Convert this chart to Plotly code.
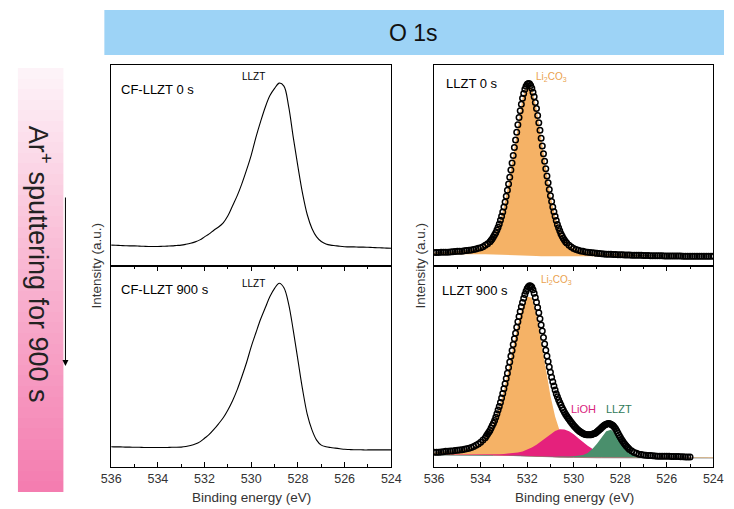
import plotly.graph_objects as go

W, H = 734, 509

# ---------------------------------------------------------------- data
# binding energy grid (eV) used for the CF-LLZT spectra, background and fits
ENERGY = [536.0, 535.8, 535.6, 535.4, 535.2, 535.0, 534.8, 534.6, 534.4, 534.2,
          534.0, 533.8, 533.6, 533.4, 533.2, 533.0, 532.8, 532.6, 532.4, 532.2,
          532.0, 531.8, 531.6, 531.4, 531.2, 531.0, 530.8, 530.6, 530.4, 530.2,
          530.0, 529.8, 529.6, 529.4, 529.2, 529.0, 528.8, 528.6, 528.4, 528.2,
          528.0, 527.8, 527.6, 527.4, 527.2, 527.0, 526.8, 526.6, 526.4, 526.2,
          526.0, 525.8, 525.6, 525.4, 525.2, 525.0, 524.8, 524.6, 524.4, 524.2,
          524.0]

# CF-LLZT spectra (normalised intensity)
CF_LLZT_0S = [0.104, 0.103, 0.102, 0.101, 0.100, 0.100, 0.099, 0.098, 0.097, 0.097,
              0.097, 0.098, 0.099, 0.100, 0.102, 0.104, 0.108, 0.113, 0.120, 0.130,
              0.145, 0.160, 0.178, 0.194, 0.215, 0.250, 0.300, 0.350, 0.410, 0.478,
              0.552, 0.640, 0.718, 0.790, 0.848, 0.884, 0.910, 0.895, 0.795, 0.640,
              0.494, 0.360, 0.255, 0.187, 0.145, 0.122, 0.110, 0.104, 0.101, 0.098,
              0.096, 0.095, 0.095, 0.094, 0.094, 0.093, 0.092, 0.091, 0.090, 0.089,
              0.088]
CF_LLZT_900S = [0.101, 0.100, 0.100, 0.099, 0.099, 0.098, 0.098, 0.097, 0.097, 0.097,
                0.097, 0.097, 0.097, 0.098, 0.098, 0.099, 0.102, 0.107, 0.114, 0.125,
                0.143, 0.162, 0.187, 0.215, 0.245, 0.284, 0.330, 0.385, 0.450, 0.520,
                0.599, 0.668, 0.735, 0.792, 0.848, 0.889, 0.914, 0.892, 0.812, 0.680,
                0.532, 0.385, 0.262, 0.185, 0.134, 0.109, 0.101, 0.097, 0.094, 0.091,
                0.088, 0.087, 0.086, 0.086, 0.085, 0.085, 0.085, 0.085, 0.085, 0.085,
                0.085]

# ---- LLZT 0 s: measured points (finer steps across the main peak)
ENERGY_0S = (
    [536.0, 535.9, 535.8, 535.7, 535.6, 535.5, 535.4, 535.3, 535.2, 535.1,
     535.0, 534.9, 534.8, 534.7, 534.6, 534.5, 534.4, 534.3, 534.2, 534.1,
     534.0, 533.9, 533.8, 533.7]
    + [533.6, 533.55, 533.5, 533.45, 533.4, 533.35, 533.3, 533.25, 533.2, 533.15,
       533.1, 533.05, 533.0, 532.95, 532.9, 532.85, 532.8, 532.75, 532.7, 532.65,
       532.6, 532.55, 532.5, 532.45, 532.4, 532.35, 532.3, 532.25, 532.2, 532.15,
       532.1, 532.05, 532.0, 531.95, 531.9, 531.85, 531.8, 531.75, 531.7, 531.65,
       531.6, 531.55, 531.5, 531.45, 531.4, 531.35, 531.3, 531.25, 531.2, 531.15,
       531.1, 531.05, 531.0, 530.95, 530.9, 530.85, 530.8, 530.75, 530.7, 530.65,
       530.6, 530.55, 530.5, 530.45, 530.4, 530.35, 530.3]
    + [530.2, 530.1, 530.0, 529.9, 529.8, 529.7, 529.6, 529.5, 529.4, 529.3,
       529.2, 529.1, 529.0, 528.9, 528.8, 528.7, 528.6, 528.5, 528.4, 528.3,
       528.2, 528.1, 528.0, 527.9, 527.8, 527.7, 527.6, 527.5, 527.4, 527.3,
       527.2, 527.1, 527.0, 526.9, 526.8, 526.7, 526.6, 526.5, 526.4, 526.3,
       526.2, 526.1, 526.0, 525.9, 525.8, 525.7, 525.6, 525.5, 525.4, 525.3,
       525.2, 525.1, 525.0, 524.9, 524.8, 524.7, 524.6, 524.5, 524.4, 524.3,
       524.2, 524.1, 524.0]
)
LLZT_0S = (
    [0.067, 0.067, 0.067, 0.068, 0.068, 0.069, 0.069, 0.070, 0.071, 0.072,
     0.073, 0.073, 0.074, 0.076, 0.077, 0.078, 0.080, 0.082, 0.085, 0.088,
     0.091, 0.096, 0.103, 0.111]
    + [0.121, 0.128, 0.136, 0.145, 0.155, 0.166, 0.179, 0.193, 0.209, 0.227,
       0.247, 0.269, 0.293, 0.319, 0.347, 0.377, 0.408, 0.442, 0.477, 0.513,
       0.550, 0.589, 0.627, 0.666, 0.703, 0.739, 0.773, 0.805, 0.834, 0.858,
       0.879, 0.894, 0.904, 0.908, 0.907, 0.898, 0.884, 0.865, 0.842, 0.814,
       0.783, 0.749, 0.713, 0.675, 0.636, 0.597, 0.559, 0.521, 0.484, 0.448,
       0.414, 0.381, 0.350, 0.321, 0.294, 0.270, 0.247, 0.226, 0.207, 0.190,
       0.175, 0.161, 0.149, 0.138, 0.129, 0.121, 0.114]
    + [0.103, 0.094, 0.087, 0.082, 0.078, 0.075, 0.073, 0.070, 0.069, 0.067,
       0.066, 0.065, 0.063, 0.062, 0.061, 0.060, 0.059, 0.059, 0.058, 0.057,
       0.057, 0.056, 0.056, 0.056, 0.055, 0.055, 0.055, 0.054, 0.054, 0.054,
       0.054, 0.053, 0.052, 0.052, 0.052, 0.051, 0.051, 0.051, 0.051, 0.051,
       0.051, 0.050, 0.050, 0.050, 0.050, 0.050, 0.050, 0.050, 0.050, 0.049,
       0.049, 0.049, 0.049, 0.049, 0.049, 0.049, 0.049, 0.049, 0.049, 0.049,
       0.049, 0.049, 0.049]
)
# background and Li2CO3 component (on ENERGY)
BG_0S = [0.058] * 14 + [0.057, 0.057, 0.056, 0.055, 0.054, 0.053, 0.052, 0.051,
                        0.050, 0.049, 0.049] + [0.048] * 11 + [0.047] * 9 + [0.046] * 16
LI2CO3_0S = [0.009, 0.009, 0.010, 0.011, 0.013, 0.015, 0.016, 0.019, 0.022, 0.027,
             0.033, 0.045, 0.063, 0.097, 0.152, 0.236, 0.352, 0.495, 0.649, 0.781,
             0.852, 0.833, 0.733, 0.587, 0.435, 0.302, 0.199, 0.127, 0.081, 0.055,
             0.039, 0.030, 0.025, 0.021, 0.018, 0.015, 0.014, 0.012, 0.011, 0.010,
             0.009, 0.008, 0.008, 0.007, 0.007, 0.006, 0.006, 0.005, 0.005, 0.005,
             0.004, 0.004, 0.004, 0.004, 0.003, 0.003, 0.003, 0.003, 0.003, 0.003,
             0.003]

# ---- LLZT 900 s: measured points (536-525 eV, finer steps across the peaks)
ENERGY_900S = (
    [536.0, 535.9, 535.8, 535.7, 535.6, 535.5, 535.4, 535.3, 535.2, 535.1,
     535.0, 534.9, 534.8, 534.7, 534.6, 534.5, 534.4, 534.3, 534.2, 534.1,
     534.0, 533.9]
    + [533.8, 533.75, 533.7, 533.65, 533.6, 533.55, 533.5, 533.45, 533.4, 533.35,
       533.3, 533.25, 533.2, 533.15, 533.1, 533.05, 533.0, 532.95, 532.9, 532.85,
       532.8, 532.75, 532.7, 532.65, 532.6, 532.55, 532.5, 532.45, 532.4, 532.35,
       532.3, 532.25, 532.2, 532.15, 532.1, 532.05, 532.0, 531.95, 531.9, 531.85,
       531.8, 531.75, 531.7, 531.65, 531.6, 531.55, 531.5, 531.45, 531.4, 531.35,
       531.3, 531.25, 531.2, 531.15, 531.1, 531.05, 531.0, 530.95, 530.9, 530.85,
       530.8, 530.75, 530.7, 530.65, 530.6, 530.55, 530.5, 530.45, 530.4, 530.35,
       530.3, 530.25, 530.2, 530.15, 530.1, 530.05, 530.0, 529.95, 529.9, 529.85,
       529.8, 529.75, 529.7, 529.65, 529.6, 529.55, 529.5, 529.45, 529.4, 529.35,
       529.3, 529.25, 529.2, 529.15, 529.1, 529.05, 529.0, 528.95, 528.9, 528.85,
       528.8, 528.75, 528.7, 528.65, 528.6, 528.55, 528.5, 528.45, 528.4, 528.35,
       528.3, 528.25, 528.2, 528.15, 528.1, 528.05, 528.0, 527.95, 527.9, 527.85,
       527.8, 527.75, 527.7, 527.65, 527.6]
    + [527.5, 527.4, 527.3, 527.2, 527.1, 527.0, 526.9, 526.8, 526.7, 526.6,
       526.5, 526.4, 526.3, 526.2, 526.1, 526.0, 525.9, 525.8, 525.7, 525.6,
       525.5, 525.4, 525.3, 525.2, 525.1, 525.0]
)
LLZT_900S = (
    [0.073, 0.074, 0.074, 0.075, 0.076, 0.078, 0.078, 0.080, 0.080, 0.082,
     0.083, 0.084, 0.086, 0.088, 0.091, 0.093, 0.097, 0.102, 0.108, 0.114,
     0.123, 0.134]
    + [0.146, 0.155, 0.164, 0.173, 0.182, 0.194, 0.206, 0.218, 0.231, 0.247,
       0.265, 0.283, 0.301, 0.321, 0.343, 0.366, 0.389, 0.414, 0.440, 0.467,
       0.495, 0.523, 0.551, 0.580, 0.609, 0.638, 0.666, 0.695, 0.723, 0.749,
       0.774, 0.797, 0.819, 0.840, 0.858, 0.874, 0.888, 0.897, 0.902, 0.900,
       0.895, 0.882, 0.864, 0.843, 0.820, 0.794, 0.767, 0.738, 0.707, 0.676,
       0.644, 0.612, 0.581, 0.552, 0.525, 0.498, 0.472, 0.447, 0.424, 0.403,
       0.383, 0.365, 0.349, 0.334, 0.321, 0.308, 0.295, 0.284, 0.273, 0.263,
       0.254, 0.245, 0.237, 0.229, 0.221, 0.214, 0.207, 0.200, 0.194, 0.188,
       0.183, 0.178, 0.174, 0.170, 0.167, 0.164, 0.162, 0.161, 0.160, 0.160,
       0.160, 0.161, 0.163, 0.165, 0.167, 0.171, 0.175, 0.180, 0.185, 0.190,
       0.196, 0.201, 0.206, 0.210, 0.213, 0.215, 0.216, 0.215, 0.213, 0.209,
       0.205, 0.198, 0.190, 0.180, 0.169, 0.158, 0.148, 0.138, 0.129, 0.121,
       0.113, 0.106, 0.099, 0.093, 0.087]
    + [0.079, 0.072, 0.068, 0.064, 0.062, 0.060, 0.059, 0.057, 0.057, 0.056,
       0.055, 0.054, 0.054, 0.053, 0.053, 0.053, 0.053, 0.052, 0.052, 0.052,
       0.052, 0.051, 0.051, 0.050, 0.050, 0.050]
)
# background and fitted components (on ENERGY)
BG_900S = [0.060] * 13 + [0.059, 0.059, 0.058, 0.058, 0.057, 0.056, 0.055, 0.054,
                          0.053, 0.052, 0.051, 0.050, 0.050, 0.049, 0.049, 0.048,
                          0.048, 0.048] + [0.047] * 4 + [0.046] * 5 + [0.045] * 21
LI2CO3_900S = [0.012, 0.013, 0.015, 0.016, 0.018, 0.021, 0.024, 0.029, 0.035, 0.045,
               0.060, 0.083, 0.118, 0.168, 0.237, 0.323, 0.427, 0.540, 0.650, 0.741,
               0.794, 0.789, 0.708, 0.578, 0.434, 0.305, 0.202, 0.130, 0.083, 0.055,
               0.039, 0.030, 0.024, 0.020, 0.017, 0.015, 0.014, 0.012, 0.010, 0.010,
               0.009, 0.008, 0.007, 0.006, 0.006, 0.006, 0.005, 0.005, 0.004, 0.004,
               0.004, 0.003, 0.003, 0.003, 0.003, 0.003, 0.003, 0.003, 0.002, 0.002,
               0.002]
LIOH_900S = [0.001, 0.001, 0.001, 0.002, 0.002, 0.002, 0.002, 0.002, 0.002, 0.003,
             0.003, 0.003, 0.004, 0.004, 0.005, 0.007, 0.009, 0.011, 0.016, 0.022,
             0.032, 0.044, 0.059, 0.077, 0.096, 0.115, 0.130, 0.139, 0.139, 0.130,
             0.115, 0.096, 0.077, 0.059, 0.044, 0.032, 0.022, 0.016, 0.011, 0.009,
             0.007, 0.005, 0.004, 0.004, 0.003, 0.003, 0.003, 0.003, 0.002, 0.002,
             0.002, 0.002, 0.002, 0.002, 0.001, 0.001, 0.001, 0.001, 0.001, 0.001,
             0.001]
LLZT_COMP_900S = [0.000, 0.000, 0.000, 0.000, 0.000, 0.000, 0.000, 0.000, 0.000, 0.000,
                  0.000, 0.000, 0.000, 0.000, 0.000, 0.001, 0.001, 0.001, 0.001, 0.001,
                  0.001, 0.001, 0.001, 0.001, 0.001, 0.002, 0.002, 0.003, 0.003, 0.004,
                  0.005, 0.008, 0.013, 0.023, 0.042, 0.070, 0.104, 0.132, 0.139, 0.120,
                  0.087, 0.055, 0.031, 0.017, 0.010, 0.006, 0.004, 0.003, 0.003, 0.002,
                  0.002, 0.002, 0.002, 0.001, 0.001, 0.001, 0.001, 0.001, 0.001, 0.001,
                  0.001]

X_TICKS = [536, 534, 532, 530, 528, 526, 524]
X_MINOR = [535, 533, 531, 529, 527, 525]
GRADIENT_STEPS = list(range(40))

# ---------------------------------------------------------------- styling
FONT = "Liberation Sans, Arial, sans-serif"
ORANGE = "#F5B266"
MAGENTA = "#E5217C"
GREEN = "#4A8F6C"
PINK_TOP = "#FDF3F8"
PINK_BOTTOM = "#F47DB0"
BANNER = "#9DD3F6"


def px_x(p):
    return p / W


def px_y(p):
    return (H - p) / H


fig = go.Figure()


def component(xa, ya, bg, comp, color):
    """Filled peak between the background and background + component."""
    top = [b + c for b, c in zip(bg, comp)]
    xs = ENERGY + ENERGY[::-1]
    ys = top + bg[::-1]
    fig.add_trace(go.Scatter(x=xs, y=ys, xaxis=xa, yaxis=ya, mode="lines",
                             fill="toself", fillcolor=color,
                             line=dict(width=0, color=color), hoverinfo="skip"))


POINT_MARKER = dict(symbol="circle-open", size=5.5, color="black",
                    line=dict(width=1.5, color="black"))

# left column: CF-LLZT raw spectra
fig.add_trace(go.Scatter(x=ENERGY, y=CF_LLZT_0S, xaxis="x", yaxis="y", mode="lines",
                         line=dict(color="black", width=1.1, shape="spline")))
fig.add_trace(go.Scatter(x=ENERGY, y=CF_LLZT_900S, xaxis="x2", yaxis="y2", mode="lines",
                         line=dict(color="black", width=1.1, shape="spline")))

# right column, top: LLZT 0 s
component("x3", "y3", BG_0S, LI2CO3_0S, ORANGE)
fig.add_trace(go.Scatter(x=ENERGY_0S, y=LLZT_0S, xaxis="x3", yaxis="y3",
                         mode="markers", marker=POINT_MARKER))

# right column, bottom: LLZT 900 s
fig.add_trace(go.Scatter(x=ENERGY, y=BG_900S, xaxis="x4", yaxis="y4", mode="lines",
                         line=dict(color="#8A8A8A", width=1)))
component("x4", "y4", BG_900S, LI2CO3_900S, ORANGE)
component("x4", "y4", BG_900S, LIOH_900S, MAGENTA)
component("x4", "y4", BG_900S, LLZT_COMP_900S, GREEN)
fig.add_trace(go.Scatter(x=ENERGY_900S, y=LLZT_900S, xaxis="x4", yaxis="y4",
                         mode="markers", marker=POINT_MARKER))

# gradient bar on the left
fig.add_trace(go.Heatmap(z=[[v] for v in GRADIENT_STEPS], xaxis="x5", yaxis="y5",
                         colorscale=[[0, PINK_BOTTOM], [0.55, "#F9B9D4"], [1, PINK_TOP]],
                         showscale=False, hoverinfo="skip"))

# ---------------------------------------------------------------- axes
LX = [px_x(104), px_x(392)]
RX = [px_x(436), px_x(723)]
TOP = [px_y(266), px_y(65)]
BOT = [px_y(467), px_y(266)]


def xaxis(domain, anchor, labels):
    ax = dict(domain=domain, anchor=anchor, range=[536, 524], showline=True,
              linecolor="black", linewidth=1.2, showgrid=False, zeroline=False,
              tickvals=X_TICKS, tickfont=dict(family=FONT, size=12.5, color="#333333"),
              ticklen=5, tickwidth=1, tickcolor="black")
    if labels:
        ax.update(mirror="ticks", ticks="inside", showticklabels=True,
                  minor=dict(tickvals=X_MINOR, ticks="inside",
                             ticklen=3, tickwidth=1, tickcolor="black"))
    else:
        ax.update(mirror=True, ticks="", showticklabels=False)
    return ax


def yaxis(domain, anchor):
    return dict(domain=domain, anchor=anchor, range=[0, 1], showline=True,
                linecolor="black", linewidth=1.2, mirror=True, showgrid=False,
                zeroline=False, ticks="", showticklabels=False)


fig.update_layout(
    width=W, height=H, margin=dict(l=0, r=0, t=0, b=0),
    paper_bgcolor="white", plot_bgcolor="white", showlegend=False,
    font=dict(family=FONT, color="black"),
    xaxis=xaxis(LX, "y", False), yaxis=yaxis(TOP, "x"),
    xaxis2=xaxis(LX, "y2", True), yaxis2=yaxis(BOT, "x2"),
    xaxis3=xaxis(RX, "y3", False), yaxis3=yaxis(TOP, "x3"),
    xaxis4=xaxis(RX, "y4", True), yaxis4=yaxis(BOT, "x4"),
    xaxis5=dict(domain=[px_x(8), px_x(55)], anchor="y5", visible=False, fixedrange=True),
    yaxis5=dict(domain=[px_y(492), px_y(68)], anchor="x5", visible=False, fixedrange=True),
)

# banner
fig.add_shape(type="rect", xref="paper", yref="paper", x0=px_x(97), x1=1.0,
              y0=px_y(55), y1=px_y(10), fillcolor=BANNER, line=dict(width=0),
              layer="below")


def paper_text(text, x, y, size, color="black", angle=0):
    return dict(text=text, xref="paper", yref="paper", x=px_x(x), y=px_y(y),
                xanchor="center", yanchor="middle", textangle=angle,
                showarrow=False, font=dict(size=size, color=color))


def data_text(text, ax, x, y, size, color="black", anchor="center"):
    return dict(text=text, xref="x" + ax, yref="y" + ax, x=x, y=y,
                xanchor=anchor, yanchor="middle", showarrow=False,
                font=dict(size=size, color=color))


ann = [
    paper_text("O 1s", 415, 33, 23, "#111111"),
    paper_text("Ar<sup>+</sup> sputtering for 900 s", 31, 264, 27, "#222222", 90),
    paper_text("Binding energy (eV)", 248, 497, 13.5, "#333333"),
    paper_text("Binding energy (eV)", 580, 497, 13.5, "#333333"),
    paper_text("Intensity (a.u.)", 88, 266, 13.5, "#333333", -90),
    paper_text("Intensity (a.u.)", 421, 266, 13.5, "#333333", -90),
    # downward arrow beside the bar
    dict(text="", xref="paper", yref="paper", x=px_x(57), y=px_y(366),
         ax=0, ay=-170, showarrow=True, arrowhead=2, arrowsize=1.2,
         arrowwidth=1, arrowcolor="black"),
    # panel captions
    data_text("CF-LLZT 0 s", "", 535.67, 0.876, 13, anchor="left"),
    data_text("CF-LLZT 900 s", "2", 535.67, 0.881, 13, anchor="left"),
    data_text("LLZT 0 s", "3", 535.58, 0.91, 13, anchor="left"),
    data_text("LLZT 900 s", "4", 535.75, 0.88, 13, anchor="left"),
    # peak assignments
    data_text("LLZT", "", 529.9, 0.945, 10),
    data_text("LLZT", "2", 529.9, 0.915, 10),
    data_text("Li<sub>2</sub>CO<sub>3</sub>", "3", 530.94, 0.94, 10, "#EAA24E"),
    data_text("Li<sub>2</sub>CO<sub>3</sub>", "4", 530.73, 0.93, 10, "#EAA24E"),
    data_text("LiOH", "4", 529.56, 0.289, 11, "#D9237C"),
    data_text("LLZT", "4", 528.06, 0.289, 11, "#2F7A58"),
]
fig.update_layout(annotations=ann)

fig.write_html("out.html")
